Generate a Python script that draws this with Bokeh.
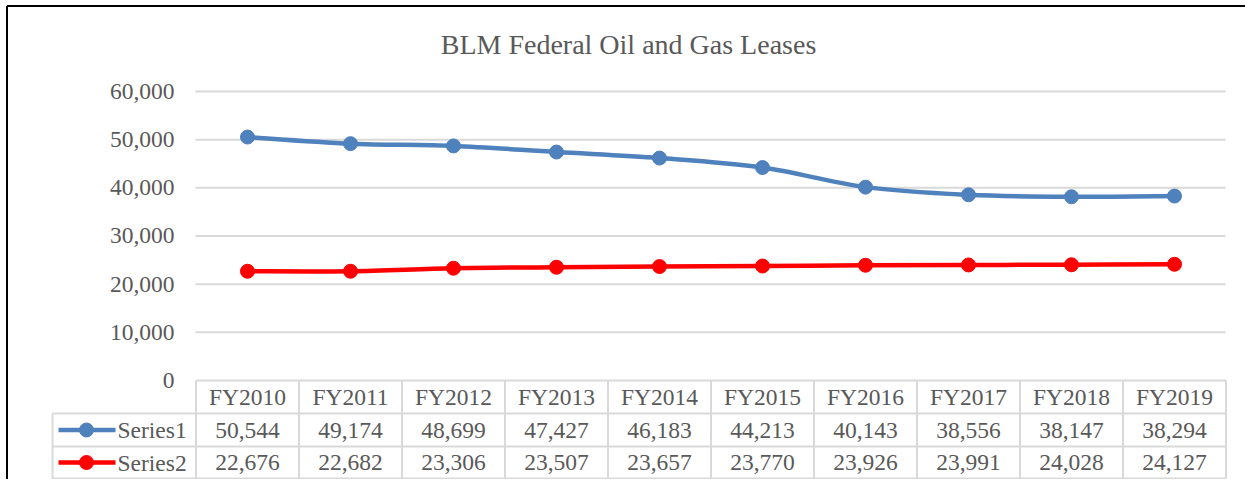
from bokeh.plotting import figure
from bokeh.models import Range1d
from bokeh.core.properties import value
from bokeh.embed import file_html
from bokeh.resources import INLINE

# ---- data ----
categories = ["FY2010", "FY2011", "FY2012", "FY2013", "FY2014",
              "FY2015", "FY2016", "FY2017", "FY2018", "FY2019"]
series_names = ["Series1", "Series2"]
series1 = [50544, 49174, 48699, 47427, 46183, 44213, 40143, 38556, 38147, 38294]
series2 = [22676, 22682, 23306, 23507, 23657, 23770, 23926, 23991, 24028, 24127]
yticks = [0, 10000, 20000, 30000, 40000, 50000, 60000]
title_text = "BLM Federal Oil and Gas Leases"

colors = ["#4f81bd", "#ff0000"]
TXT = "#595959"
GRID = "#d9d9d9"
FONT = value("Liberation Serif")

W, H = 1245, 479
# layout helpers: pixel position -> data units
def ux(px):
    return (px - 247) / 103.0

def uy(py):
    return (380 - py) * 10000 / 48.1667

xs = list(range(len(categories)))

p = figure(width=W, height=H, output_backend="svg", toolbar_location=None,
           x_range=Range1d(ux(0), ux(W)), y_range=Range1d(uy(H), uy(0)),
           x_axis_location=None, y_axis_location=None, min_border=0,
           background_fill_color="white", border_fill_color="white")
p.grid.visible = False
p.outline_line_color = None

# border (left and top)
p.segment(x0=[ux(6.5), ux(6.5)], y0=[uy(5.5), uy(5.5)], x1=[ux(6.5), ux(W + 5)],
          y1=[uy(H + 5), uy(5.5)], line_color="black", line_width=2)

# title
p.text(x=[ux(628)], y=[uy(44)], text=[title_text], text_font=FONT,
       text_font_size="28px", text_color=TXT, text_align="center", text_baseline="middle")

# gridlines
gy = [t for t in yticks if t > 0]
p.segment(x0=[ux(195)] * len(gy), y0=gy, x1=[ux(1225)] * len(gy), y1=gy,
          line_color=GRID, line_width=2)

# y tick labels
p.text(x=[ux(174)] * len(yticks), y=yticks, text=[f"{t:,}" for t in yticks],
       text_font=FONT, text_font_size="23.5px", text_color=TXT,
       text_align="right", text_baseline="middle")

# data table grid
n = len(categories)
row_b = [uy(380), uy(413), uy(446), uy(478)]
p.segment(x0=[-0.5], y0=[row_b[0]], x1=[n - 0.5], y1=[row_b[0]], line_color=GRID, line_width=2)
p.segment(x0=[ux(52)] * 3, y0=row_b[1:], x1=[n - 0.5] * 3, y1=row_b[1:],
          line_color=GRID, line_width=2)
vx = [i - 0.5 for i in range(n + 1)]
p.segment(x0=vx, y0=[row_b[0]] * len(vx), x1=vx, y1=[row_b[3]] * len(vx),
          line_color=GRID, line_width=2)
p.segment(x0=[ux(52)], y0=[row_b[1]], x1=[ux(52)], y1=[row_b[3]], line_color=GRID, line_width=2)

# category labels
p.text(x=xs, y=[uy(396.5)] * n, text=categories, text_font=FONT, text_font_size="23.5px",
       text_color=TXT, text_align="center", text_baseline="middle")


def smooth_segments(x, y):
    """Bezier control points for an Excel-like smoothed line through the data points."""
    m = len(x)
    seg = dict(x0=[], y0=[], x1=[], y1=[], cx0=[], cy0=[], cx1=[], cy1=[])
    for i in range(m - 1):
        ip, i2 = max(i - 1, 0), min(i + 2, m - 1)
        seg["x0"].append(x[i]); seg["y0"].append(y[i])
        seg["x1"].append(x[i + 1]); seg["y1"].append(y[i + 1])
        seg["cx0"].append(x[i] + (x[i + 1] - x[ip]) / 6.0)
        seg["cy0"].append(y[i] + (y[i + 1] - y[ip]) / 6.0)
        seg["cx1"].append(x[i + 1] - (x[i2] - x[i]) / 6.0)
        seg["cy1"].append(y[i + 1] - (y[i2] - y[i]) / 6.0)
    return seg


row_centers = [uy(429.5), uy(462)]
for vals, name, c, rc in zip([series1, series2], series_names, colors, row_centers):
    # smoothed line and markers
    p.bezier(line_color=c, line_width=4.5, line_cap="round", **smooth_segments(xs, vals))
    p.scatter(xs, vals, size=14, fill_color=c, line_color=c)
    # table values
    p.text(x=xs, y=[rc] * n, text=[f"{v:,}" for v in vals], text_font=FONT,
           text_font_size="23.5px", text_color=TXT, text_align="center", text_baseline="middle")
    # legend key
    p.line([ux(58), ux(115)], [rc, rc], line_color=c, line_width=4.5)
    p.scatter([ux(86)], [rc], size=14, fill_color=c, line_color=c)
    p.text(x=[ux(117)], y=[rc], text=[name], text_font=FONT, text_font_size="23.5px",
           text_color=TXT, text_align="left", text_baseline="middle")

open("out.html", "w").write(file_html(p, INLINE))
